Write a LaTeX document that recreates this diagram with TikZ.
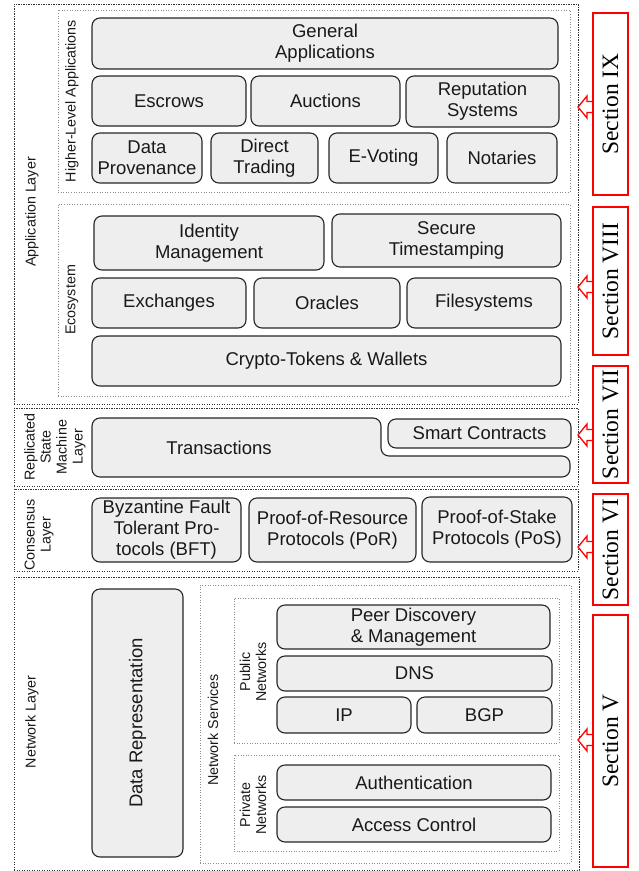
\documentclass[tikz,border=0pt]{standalone}
\usepackage{fontspec}
\setmainfont{Liberation Sans}
\newfontfamily\secserif{Liberation Serif}
\newcommand{\boxfont}{\fontsize{18.5}{21}\selectfont}
\newcommand{\lblfont}{\fontsize{14.3}{16}\selectfont}
\newcommand{\secfont}{\secserif\fontsize{23.5}{26}\selectfont}
\tikzset{
    % Colors
    box color/.style={fill=gray!13},
    text color/.style={text=black!90},
    %
    % Placing a node by its corners
    span/.style n args={4}{at={({(#1+#3)/2},{(#2+#4)/2})},minimum width={(#3)-(#1)},minimum height={(#4)-(#2)}},
    %
    % Boxes and frames
    blk/.style={draw=black!85,line width=1.1pt,rounded corners=8pt,box color,text color,inner sep=0pt,align=center,font=\boxfont},
    layer/.style={draw=black!80,line width=1pt,dash pattern=on 1.2pt off 1.3pt,inner sep=0pt},
    group/.style={draw=black!45,line width=0.8pt,dash pattern=on 1pt off 1.6pt,inner sep=0pt},
    lbl/.style={rotate=90,align=center,text color,font=\lblfont,inner sep=0pt},
    secbox/.style={draw=red,line width=2pt,rotate=90,inner sep=0pt,font=\secfont},
    %
    % Arrows
    sec arrow/.pic={\draw[red,line width=1.3pt,fill=white,line join=miter] (0,0) -- (9,-11) -- (9,-5.5) -- (15,-5.5) -- (15,5.5) -- (9,5.5) -- (9,11) -- cycle;}
}

\begin{document}
\begin{tikzpicture}[x=1pt,y=-1pt]
    \useasboundingbox (0,0) rectangle (639,871);

    % Application layer
    \node[layer,span={14}{4}{578}{404}] (applayer) {};
    \node[group,span={58}{10}{570}{192}] (higher) {};
    \node[group,span={58}{204}{570}{396}] (ecosys) {};
    \node[lbl] (applbl) at (32,212) {Application Layer};
    \node[lbl] (higherlbl) at (72,101) {Higher-Level Applications};
    \node[lbl] (ecolbl) at (72,300) {Ecosystem};

    \node[blk,span={92}{18}{558}{69}] (genapp) {General\\Applications};
    \node[blk,span={92}{76}{246}{126}] (escrows) {Escrows};
    \node[blk,span={251}{76}{400}{126}] (auctions) {Auctions};
    \node[blk,span={406}{76}{559}{127}] (reput) {Reputation\\Systems};
    \node[blk,span={92}{133}{202}{183}] (dataprov) {Data\\Provenance};
    \node[blk,span={211}{133}{318}{183}] (dtrade) {Direct\\Trading};
    \node[blk,span={329}{133}{438}{183}] (evoting) {E-Voting};
    \node[blk,span={447}{133}{557}{183}] (notaries) {Notaries};

    \node[blk,span={94}{216}{324}{270}] (idmgmt) {Identity\\Management};
    \node[blk,span={332}{214}{561}{267}] (tstamp) {Secure\\Timestamping};
    \node[blk,span={92}{278}{246}{328}] (exch) {Exchanges};
    \node[blk,span={254}{278}{400}{328}] (oracles) {Oracles};
    \node[blk,span={407}{278}{561}{328}] (filesys) {Filesystems};
    \node[blk,span={92}{336}{561}{386}] (tokens) {Crypto-Tokens \& Wallets};

    % Replicated state machine layer
    \node[layer,span={14}{408}{578}{486}] (rsmlayer) {};
    \node[lbl] (rsmlbl) at (55,447) {Replicated\\State\\Machine\\Layer};
    \draw[blk] (92,418) -- (381,418) -- (381,456) -- (570,456) -- (570,477) -- (92,477) -- cycle;
    \node[text color,font=\boxfont] (trans) at (219,448) {Transactions};
    \node[blk,span={388}{419}{571}{448}] (smart) {Smart Contracts};

    % Consensus layer
    \node[layer,span={14}{489}{578}{571}] (conslayer) {};
    \node[lbl] (conslbl) at (39,535) {Consensus\\Layer};
    \node[blk,span={92}{498}{241}{562}] (bft) {Byzantine Fault\\Tolerant Pro-\\tocols (BFT)};
    \node[blk,span={249}{498}{416}{562}] (por) {Proof-of-Resource\\Protocols (PoR)};
    \node[blk,span={422}{497}{572}{562}] (pos) {Proof-of-Stake\\Protocols (PoS)};

    % Network layer
    \node[layer,span={14}{577}{579}{870}] (netlayer) {};
    \node[lbl] (netlbl) at (32,722) {Network Layer};
    \node[blk,rotate=90,minimum width=268pt,minimum height=91pt] (datarep) at (137.5,723) {Data Representation};
    \node[group,span={200}{585}{571}{863}] (netserv) {};
    \node[group,span={234}{598}{559}{743}] (pubnet) {};
    \node[group,span={234}{755}{559}{851}] (privnet) {};
    \node[lbl] (netservlbl) at (213,730) {Network Services};
    \node[lbl] (publbl) at (253,672) {Public\\Networks};
    \node[lbl] (privlbl) at (253,805) {Private\\Networks};

    \node[blk,span={277}{605}{550}{649}] (peer) {Peer Discovery\\\& Management};
    \node[blk,span={277}{656}{552}{691}] (dns) {DNS};
    \node[blk,span={277}{697}{411}{733}] (ip) {IP};
    \node[blk,span={417}{697}{552}{733}] (bgp) {BGP};
    \node[blk,span={277}{765}{551}{800}] (auth) {Authentication};
    \node[blk,span={277}{807}{551}{842}] (access) {Access Control};

    % Sections
    \foreach \y in {107,287,435,547,740}
        \pic at (578,\y) {sec arrow};
    \node[secbox,minimum width=182pt,minimum height=35pt] (sec9) at (610.5,104) {Section IX};
    \node[secbox,minimum width=148pt,minimum height=35pt] (sec8) at (610.5,281) {Section VIII};
    \node[secbox,minimum width=117pt,minimum height=35pt] (sec7) at (610.5,424.5) {Section VII};
    \node[secbox,minimum width=111pt,minimum height=35pt] (sec6) at (610.5,549.5) {Section VI};
    \node[secbox,minimum width=252pt,minimum height=35pt] (sec5) at (610.5,741) {Section V};
\end{tikzpicture}
\end{document}
